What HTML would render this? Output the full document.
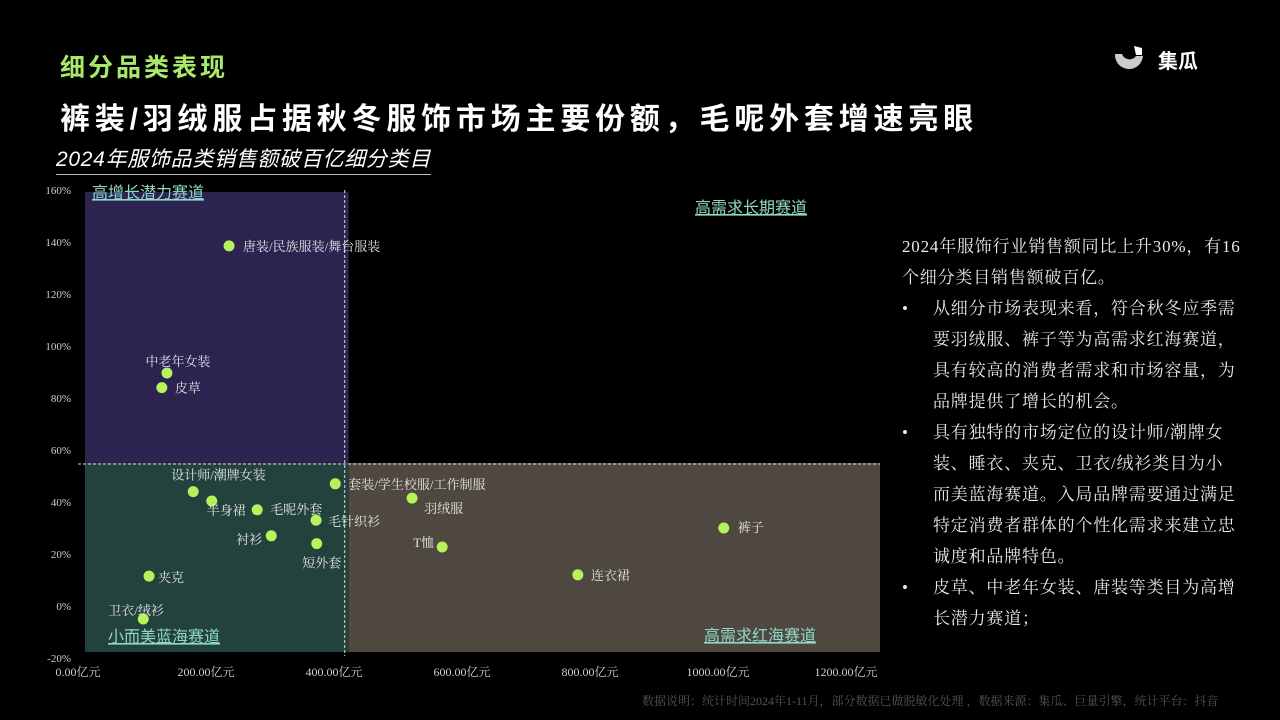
<!DOCTYPE html>
<html><head><meta charset="utf-8"><style>
body{margin:0;background:#000;width:1280px;height:720px;overflow:hidden;position:relative;font-family:"Liberation Sans","Noto Sans CJK SC",sans-serif;}
.abs{position:absolute;}
#side{left:902px;top:231px;width:360px;color:#e8e8e8;font-family:"Liberation Serif","Noto Serif CJK SC",serif;font-size:17px;line-height:31px;letter-spacing:0.8px;white-space:nowrap;}
#side p{margin:0;}
#side .b{position:relative;padding-left:31px;}
#side .b:before{content:"•";position:absolute;left:0;}
</style></head><body>
<div class="abs" style="left:60px;top:48px;color:#a8e86a;font-size:25px;font-weight:bold;letter-spacing:3px;">细分品类表现</div>
<div class="abs" style="left:60px;top:94px;color:#fff;font-size:30px;font-weight:bold;letter-spacing:4.8px;">裤装/羽绒服占据秋冬服饰市场主要份额，毛呢外套增速亮眼</div>
<div class="abs" style="left:56px;top:143px;color:#fff;font-size:21px;font-style:italic;letter-spacing:0.7px;border-bottom:1px solid #bbb;padding-bottom:1px;">2024年服饰品类销售额破百亿细分类目</div>
<div class="abs" style="left:1112px;top:44px;width:36px;height:30px;">
<svg width="36" height="30"><path d="M3 10 A14 14 0 0 0 31 12 L24 12 A8 8 0 0 1 10 10 Z" fill="#ccc"/><path d="M22 2 L30 4 L30 11 L24 11 Z" fill="#fff"/></svg></div>
<div class="abs" style="left:1158px;top:45px;color:#fff;font-size:20px;font-weight:bold;">集瓜</div>
<svg class="abs" style="left:0;top:0" width="1280" height="720" id="chart"></svg>
<div id="side" class="abs">
<p>2024年服饰行业销售额同比上升30%，有16<br>个细分类目销售额破百亿。</p>
<p class="b">从细分市场表现来看，符合秋冬应季需<br>要羽绒服、裤子等为高需求红海赛道，<br>具有较高的消费者需求和市场容量，为<br>品牌提供了增长的机会。</p>
<p class="b">具有独特的市场定位的设计师/潮牌女<br>装、睡衣、夹克、卫衣/绒衫类目为小<br>而美蓝海赛道。入局品牌需要通过满足<br>特定消费者群体的个性化需求来建立忠<br>诚度和品牌特色。</p>
<p class="b">皮草、中老年女装、唐装等类目为高增<br>长潜力赛道；</p>
</div>
<div class="abs" style="left:642px;top:692px;color:#555;font-size:12px;font-family:'Liberation Serif','Noto Serif CJK SC',serif;white-space:nowrap;">数据说明：统计时间2024年1-11月，部分数据已做脱敏化处理 ，数据来源：集瓜、巨量引擎，统计平台：抖音</div>
<script>
const names=["唐装/民族服装/舞台服装","中老年女装","皮草","设计师/潮牌女装","半身裙","毛呢外套","套装/学生校服/工作制服","毛针织衫","衬衫","短外套","羽绒服","T恤","裤子","连衣裙","夹克","卫衣/绒衫"];
const sales=[236,139,131,180,209,280,402,372,302,373,522,569,1009,781,111,102];
const growth=[138.5,89.6,84,44,40.4,37,47,33,27,24,41.5,22.7,30,12,11.5,-5];
const xTicks=[0,200,400,600,800,1000,1200];
const xTickLabels=["0.00亿元","200.00亿元","400.00亿元","600.00亿元","800.00亿元","1000.00亿元","1200.00亿元"];
const yTicks=[160,140,120,100,80,60,40,20,0,-20];
const xSplit=423, ySplit=55;
const labelPos=[[14,5,"start"],[11,-7,"middle"],[13,5,"start"],[-22,-12,"start"],[-5,14,"start"],[13,4,"start"],[13,5,"start"],[12,6,"start"],[-9,8,"end"],[5,24,"middle"],[12,15,"start"],[-8,0,"end"],[14,4,"start"],[13,5,"start"],[9,6,"start"],[-35,-4,"start"]];
const X=v=>78+v*0.64, Y=v=>190+(160-v)*2.6;
const svg=document.getElementById('chart');const NS="http://www.w3.org/2000/svg";
function mk(t,a,p){const e=document.createElementNS(NS,t);for(const k in a)e.setAttribute(k,a[k]);(p||svg).appendChild(e);return e;}
const serif='"Liberation Serif","Noto Serif CJK SC",serif';
let r;
r=mk('rect',{x:85,y:192,width:X(xSplit)-85,height:Y(ySplit)-192,fill:'#2c2350'});


r=mk('rect',{x:85,y:Y(ySplit),width:X(xSplit)-85,height:652-Y(ySplit),fill:'#24423d'});


r=mk('rect',{x:X(xSplit),y:Y(ySplit),width:880-X(xSplit),height:652-Y(ySplit),fill:'#4f4840'});


r=mk('line',{x1:X(xSplit)-4,x2:X(xSplit)-4,y1:190,y2:656,stroke:'#ddd','stroke-dasharray':'3,2','stroke-width':1});


r=mk('line',{x1:78,x2:880,y1:Y(ySplit)+1,y2:Y(ySplit)+1,stroke:'#ddd','stroke-dasharray':'3,2','stroke-width':1});


yTicks.forEach(v=>{const t=mk('text',{x:71,y:Y(v)+4,'text-anchor':'end',fill:'#ccc','font-size':11,'font-family':serif});t.textContent=v+'%';

});
xTicks.forEach((v,i)=>{const t=mk('text',{x:X(v),y:676,'text-anchor':'middle',fill:'#ccc','font-size':12,'font-family':serif});t.textContent=xTickLabels[i];

});
const quads=[["高增长潜力赛道",92,198],["高需求长期赛道",695,213],["小而美蓝海赛道",108,642],["高需求红海赛道",704,641]];
quads.forEach(q=>{const t=mk('text',{x:q[1],y:q[2],fill:'#8fd8c8','font-size':16,'text-decoration':'underline'});t.textContent=q[0];

});
names.forEach((n,i)=>{const cx=X(sales[i]),cy=Y(growth[i]);
const c=mk('circle',{cx:cx,cy:cy,r:5.5,fill:'#b6f25a'});


const p=labelPos[i];const t=mk('text',{x:cx+p[0],y:cy+p[1],'text-anchor':p[2],fill:'#e4e4e4','font-size':13,'font-family':serif});t.textContent=n;

});
</script>
</body></html>
